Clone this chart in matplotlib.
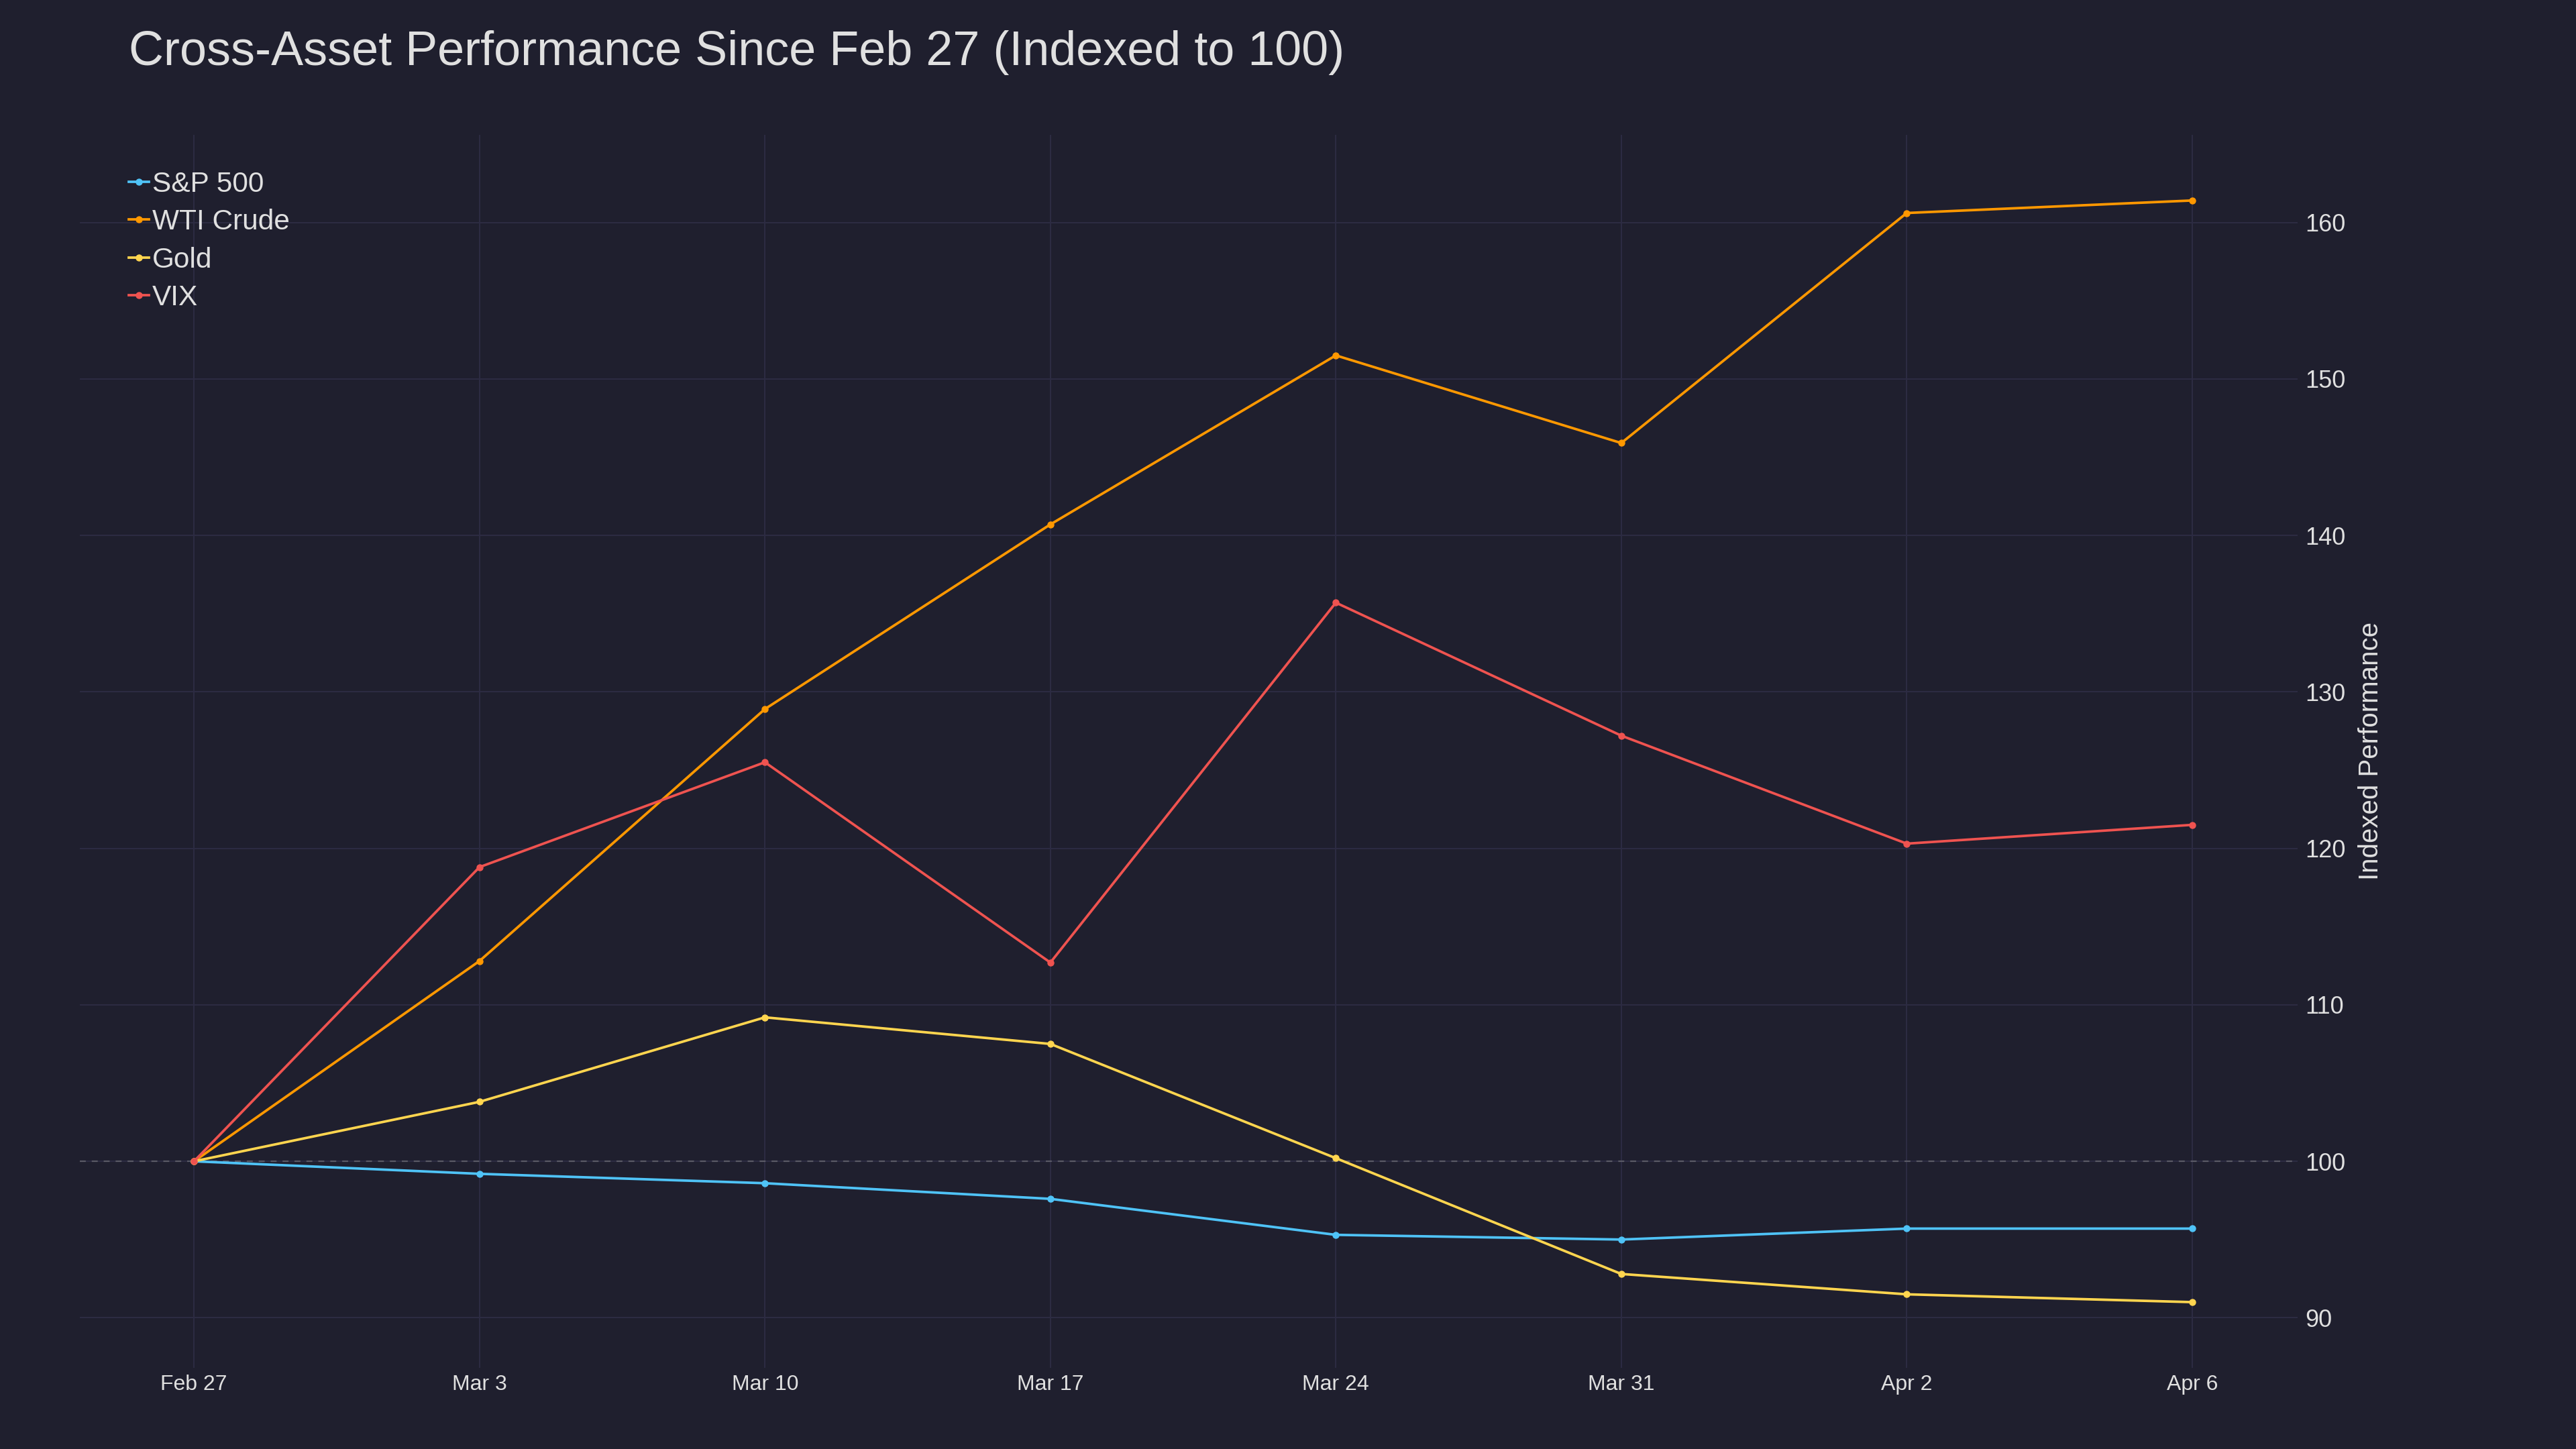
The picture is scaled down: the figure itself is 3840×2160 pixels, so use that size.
import matplotlib
matplotlib.use("Agg")
import matplotlib.pyplot as plt

# Data
dates = ["Feb 27", "Mar 3", "Mar 10", "Mar 17", "Mar 24", "Mar 31", "Apr 2", "Apr 6"]
sp500 = [100, 99.2, 98.6, 97.6, 95.3, 95.0, 95.7, 95.7]
wti = [100, 112.8, 128.9, 140.7, 151.5, 145.9, 160.6, 161.4]
gold = [100, 103.8, 109.2, 107.5, 100.2, 92.8, 91.5, 91.0]
vix = [100, 118.8, 125.5, 112.7, 135.7, 127.2, 120.3, 121.5]

series = [
    ("S&P 500", sp500, "#4fc3f7"),
    ("WTI Crude", wti, "#ff9800"),
    ("Gold", gold, "#ffd54f"),
    ("VIX", vix, "#ef5350"),
]

BG = "#1f1f2e"
TEXT = "#e0e0e0"
GRID = "#2c2b42"

plt.rcParams["font.family"] = ["Liberation Sans", "DejaVu Sans"]

fig = plt.figure(figsize=(38.4, 21.6), dpi=100, facecolor=BG)
ax = fig.add_axes([0.031, 0.056, 0.861, 0.851], facecolor=BG)

x = list(range(len(dates)))
for name, vals, color in series:
    ax.plot(x, vals, color=color, linewidth=2.7, marker="o", markersize=6.5,
            label=name, zorder=3)

# reference line at 100
ax.axhline(100, color="#5a5a66", linestyle=(0, (4, 4)), linewidth=1.6, zorder=2)

ax.set_xlim(-0.4, 7.37)
ax.set_ylim(86.8, 165.6)
ax.set_xticks(x)
ax.set_xticklabels(dates)
ax.set_yticks([90, 100, 110, 120, 130, 140, 150, 160])

ax.yaxis.tick_right()
ax.yaxis.set_label_position("right")
ax.set_ylabel("Indexed Performance", color=TEXT, fontsize=29, labelpad=13)

ax.tick_params(axis="x", colors=TEXT, labelsize=23, length=0, pad=7)
ax.tick_params(axis="y", colors=TEXT, labelsize=26, length=0, pad=8)

ax.grid(True, color=GRID, linewidth=1.5, zorder=0)
for s in ax.spines.values():
    s.set_visible(False)

fig.text(0.05, 0.9635, "Cross-Asset Performance Since Feb 27 (Indexed to 100)",
         color=TEXT, fontsize=51.8, va="center", ha="left")

leg = ax.legend(loc="upper left", bbox_to_anchor=(0.017, 0.98), frameon=False,
                fontsize=30.5, labelcolor=TEXT, handlelength=0.7, handletextpad=0.12,
                labelspacing=0.39, borderaxespad=0)

fig.savefig("out.png", dpi=100, facecolor=BG)
